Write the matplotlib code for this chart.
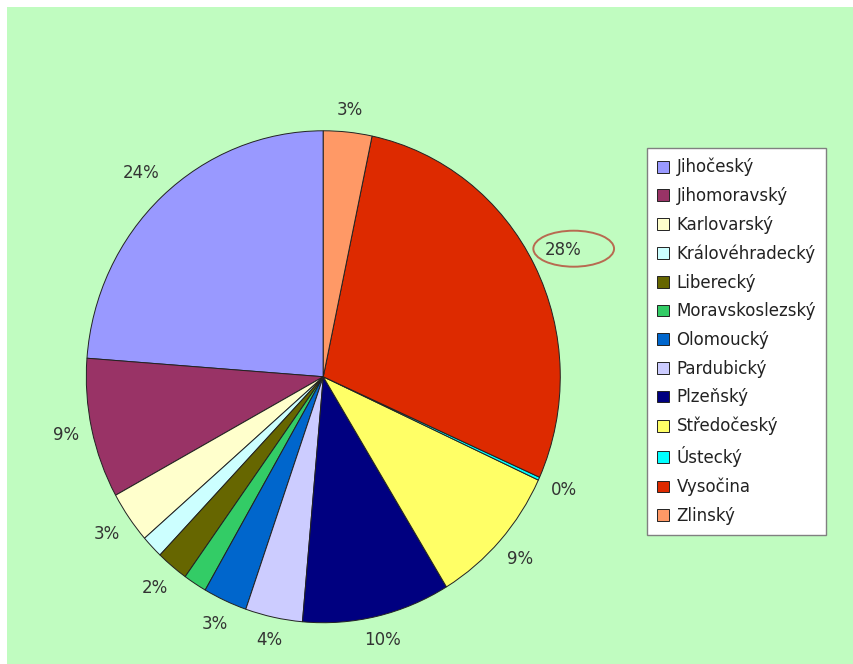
import matplotlib
matplotlib.use('Agg')
import matplotlib.pyplot as plt
from matplotlib.patches import Rectangle, Ellipse
import numpy as np

kraje = ['Jihočeský', 'Jihomoravský', 'Karlovarský', 'Královéhradecký',
         'Liberecký', 'Moravskoslezský', 'Olomoucký', 'Pardubický',
         'Plzeňský', 'Středočeský', 'Ústecký', 'Vysočina', 'Zlinský']
podil = [23.8, 9.2, 3.4, 1.5, 2.2, 1.6, 3.0, 3.9, 10.1, 9.4, 0.2, 28.4, 3.3]
# two small slices have no percentage printed in the original
popisek = [True, True, True, False, True, False, True, True, True, True, True, True, True]
barvy = ['#9999FF', '#993366', '#FFFFCC', '#CCFFFF', '#666600', '#33CC66',
         '#0066CC', '#CCCCFF', '#000080', '#FFFF66', '#00FFFF', '#DD2A00',
         '#FF9966']

W, H = 854, 664
fig = plt.figure(figsize=(W / 100, H / 100), dpi=100)
fig.patch.set_facecolor('white')
fig.add_artist(Rectangle((7 / W, 0), 1, (H - 7) / H, transform=fig.transFigure,
                         facecolor='#C0FCC0', edgecolor='none', zorder=0))

ax = fig.add_axes([0.0178, 0.0066, 0.7215, 0.852])
ax.set_facecolor('none')
wedges, _ = ax.pie(podil, colors=barvy, startangle=90, counterclock=True,
                   wedgeprops=dict(edgecolor='#222222', linewidth=0.7))
ax.set_aspect('auto')
ax.set_xlim(-1.3, 1.3)
ax.set_ylim(-1.15, 1.15)
ax.axis('off')

total = sum(podil)
texty = []
for w, v, ukaz in zip(wedges, podil, popisek):
    if not ukaz:
        continue
    th = np.deg2rad((w.theta1 + w.theta2) / 2)
    t = ax.text(np.cos(th), np.sin(th), f'{v / total * 100:.0f}%',
                ha='center', va='center', fontsize=12, color='#333333')
    texty.append((t, th))

# push each label out so its box sits a fixed gap from the pie edge (Excel style)
fig.canvas.draw()
r = fig.canvas.get_renderer()
gap = 12
for t, th in texty:
    ext = t.get_window_extent(r)
    edge = ax.transData.transform((np.cos(th), np.sin(th)))
    c0 = ax.transData.transform((0, 0))
    u = edge - c0
    u = u / np.hypot(*u)
    d = gap + abs(u[0]) * ext.width / 2 + abs(u[1]) * ext.height / 2
    t.set_position(ax.transData.inverted().transform(edge + u * d))

# hand drawn ring around the Vysočina label
fig.add_artist(Ellipse((573.7 / W, 1 - 248.7 / H), 80.7 / W, 36 / H,
                       transform=fig.transFigure, fill=False,
                       edgecolor='#B86A50', linewidth=1.4))

leg = fig.legend(wedges, kraje, loc='upper left',
                 bbox_to_anchor=(647 / W, 1 - 148 / H),
                 bbox_transform=fig.transFigure, borderaxespad=0,
                 fancybox=False, edgecolor='#808080', framealpha=1,
                 fontsize=12, labelspacing=0.64, handlelength=0.72,
                 handleheight=0.72, handletextpad=0.45, borderpad=0.6,
                 labelcolor='#222222')
leg.get_frame().set_linewidth(1.0)

fig.savefig('out.png', dpi=100, facecolor=fig.get_facecolor())
